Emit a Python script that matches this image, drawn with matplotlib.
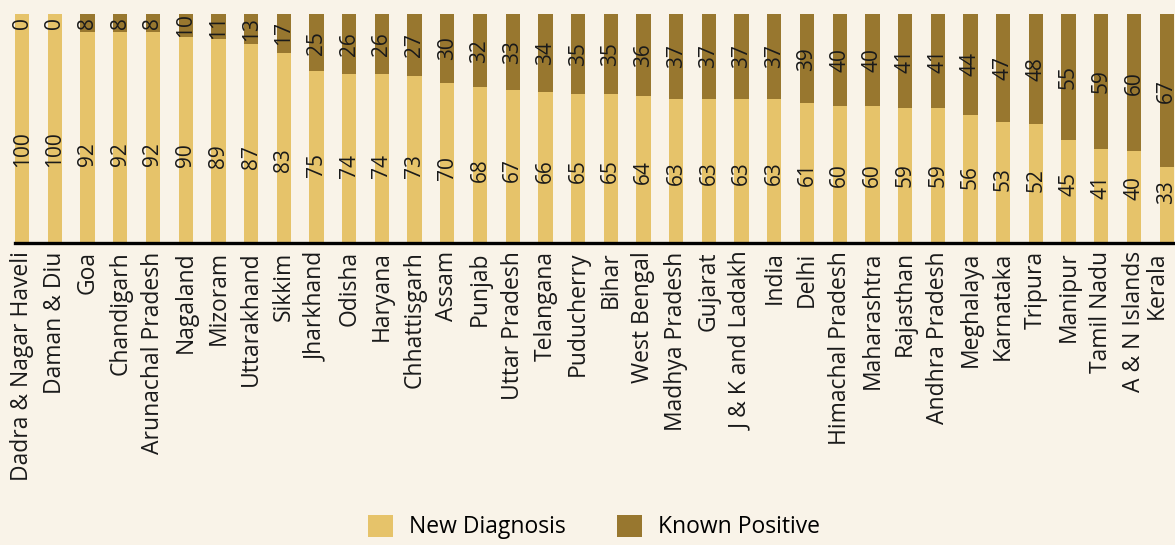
import matplotlib.pyplot as plt
import matplotlib.transforms as mtransforms
import numpy as np
from matplotlib.patches import Patch

states = ['Dadra & Nagar Haveli', 'Daman & Diu', 'Goa', 'Chandigarh', 'Arunachal Pradesh',
          'Nagaland', 'Mizoram', 'Uttarakhand', 'Sikkim', 'Jharkhand', 'Odisha', 'Haryana',
          'Chhattisgarh', 'Assam', 'Punjab', 'Uttar Pradesh', 'Telangana', 'Puducherry',
          'Bihar', 'West Bengal', 'Madhya Pradesh', 'Gujarat', 'J & K and Ladakh', 'India',
          'Delhi', 'Himachal Pradesh', 'Maharashtra', 'Rajasthan', 'Andhra Pradesh',
          'Meghalaya', 'Karnataka', 'Tripura', 'Manipur', 'Tamil Nadu', 'A & N Islands',
          'Kerala']
new_diagnosis = [100, 100, 92, 92, 92, 90, 89, 87, 83, 75, 74, 74, 73, 70, 68, 67, 66, 65,
                 65, 64, 63, 63, 63, 63, 61, 60, 60, 59, 59, 56, 53, 52, 45, 41, 40, 33]
known_positive = [0, 0, 8, 8, 8, 10, 11, 13, 17, 25, 26, 26, 27, 30, 32, 33, 34, 35,
                  35, 36, 37, 37, 37, 37, 39, 40, 40, 41, 41, 44, 47, 48, 55, 59, 60, 67]

bg = '#f9f3e8'
yellow = '#e6c36a'
brown = '#98772f'
ink = '#1a1a1a'
plt.rcParams['font.family'] = ['Open Sans', 'DejaVu Sans']

fig = plt.figure(figsize=(11.75, 5.45), dpi=100, facecolor=bg)
# axes runs to the right edge so the last bar sits against it
ax = fig.add_axes([15 / 1175, 1 - 243 / 545, 1160 / 1175, 229 / 545], facecolor=bg)

x = np.arange(len(states))
w = 0.44
new = np.array(new_diagnosis)
known = np.array(known_positive)
ax.bar(x, new, width=w, color=yellow)
ax.bar(x, known, width=w, bottom=new, color=brown)

for xi, n, k in zip(x, new, known):
    ax.text(xi, 0.28 * n + 13, str(n), rotation=90, ha='center', va='center',
            fontsize=15, color=ink)
    ax.text(xi, n + k / 2 if k > 6 else 96, str(k), rotation=90, ha='center',
            va='center', fontsize=15, color=ink)

ax.set_xlim(-w / 2, -w / 2 + 1160 / 32.7)
ax.set_ylim(0, 100)
ax.set_yticks([])
ax.set_xticks(x)
ax.set_xticklabels(states, rotation=90, fontsize=16.5, color=ink)
ax.tick_params(axis='x', length=0, pad=6)
for s in ['top', 'right', 'left']:
    ax.spines[s].set_visible(False)
ax.spines['bottom'].set_linewidth(2.4)
ax.spines['bottom'].set_color('black')

# pull the last label in so it stays inside the figure
last = ax.get_xticklabels()[-1]
last.set_transform(last.get_transform() +
                   mtransforms.ScaledTranslation(-10 / 100, 0, fig.dpi_scale_trans))

handles = [Patch(facecolor=yellow, label='New Diagnosis'),
           Patch(facecolor=brown, label='Known Positive')]
fig.legend(handles=handles, loc='center', bbox_to_anchor=(594 / 1175, 1 - 527 / 545),
           ncol=2, frameon=False, fontsize=16.5, handlelength=1.1, handleheight=1.1,
           columnspacing=2.2, handletextpad=0.7)

fig.savefig('out.png', dpi=100, facecolor=bg)
